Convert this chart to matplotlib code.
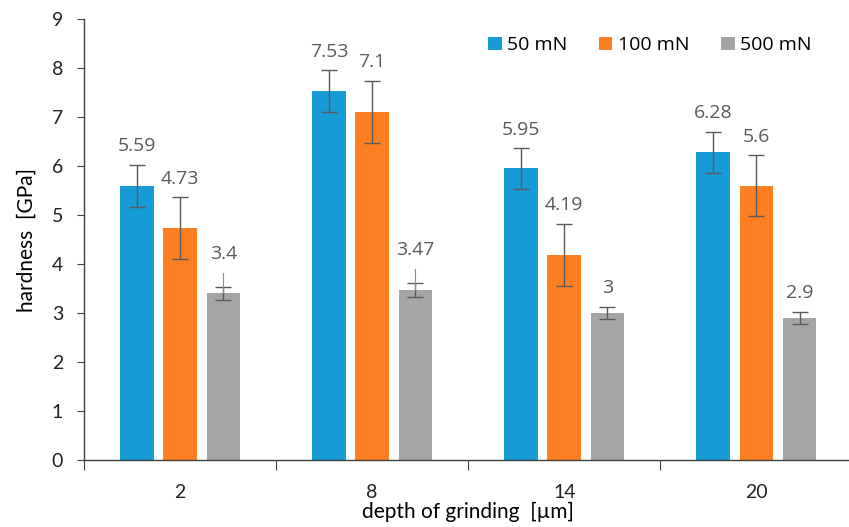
import numpy as np
import matplotlib
matplotlib.use("Agg")
from matplotlib import pyplot as plt

depths = ["2", "8", "14", "20"]
loads = ["50 mN", "100 mN", "500 mN"]
hardness = [
    [5.59, 7.53, 5.95, 6.28],   # 50 mN
    [4.73, 7.10, 4.19, 5.60],   # 100 mN
    [3.40, 3.47, 3.00, 2.90],   # 500 mN
]
errors = [
    [0.43, 0.42, 0.41, 0.42],
    [0.63, 0.64, 0.63, 0.62],
    [0.14, 0.14, 0.13, 0.13],
]
# thin uncapped line reaching above the cap on some grey bars
extra_up = [
    [0.0, 0.0, 0.0, 0.0],
    [0.0, 0.0, 0.0, 0.0],
    [0.42, 0.43, 0.0, 0.0],
]
labels = [
    ["5.59", "7.53", "5.95", "6.28"],
    ["4.73", "7.1", "4.19", "5.6"],
    ["3.4", "3.47", "3", "2.9"],
]
colors = ["#179BD7", "#FD7F22", "#A5A5A5"]

plt.rcParams['font.family'] = ['Open Sans', 'DejaVu Sans']

fig = plt.figure(figsize=(8.49, 5.27), dpi=100)
ax = fig.add_axes([0.099, 0.127, 0.905, 0.837])

x = np.arange(len(depths))
offsets = [-0.225, 0.0, 0.225]
width = 0.175
err_col = "#595959"

for i in range(3):
    pos = x + offsets[i]
    ax.bar(pos, hardness[i], width, color=colors[i], label=loads[i], zorder=2)
    ax.errorbar(pos, hardness[i], yerr=errors[i], fmt="none", ecolor=err_col,
                elinewidth=1, capsize=6, capthick=1, zorder=3)
    ext = np.array(extra_up[i])
    tops = np.array(hardness[i]) + np.maximum(np.array(errors[i]), ext)
    for j in range(len(depths)):
        if ext[j] > 0:
            ax.plot([pos[j], pos[j]], [hardness[i][j], hardness[i][j] + ext[j]],
                    color="#8c8c8c", lw=0.8, zorder=3)
        ax.annotate(labels[i][j], (pos[j], tops[j]), xytext=(0, 7),
                    textcoords="offset points", ha="center", va="bottom",
                    fontsize=14, color="#595959")

ax.set_xlim(-0.5, 3.5)
ax.set_ylim(0, 9)
ax.set_yticks(range(10))
ax.set_xticks(np.arange(-0.5, 4.0, 1.0))
ax.set_xticklabels([])
ax.set_xticks(x, minor=True)
ax.set_xticklabels(depths, minor=True)
ax.tick_params(axis="x", which="major", length=7, direction="out", color="#404040")
ax.tick_params(axis="x", which="minor", length=0, pad=17, labelsize=14, labelcolor="#222222")
ax.tick_params(axis="y", length=5, direction="out", color="#404040", labelsize=14,
               labelcolor="#222222", pad=10)
for lab in ax.get_xticklabels(minor=True) + ax.get_yticklabels():
    lab.set_family(['Lato', 'DejaVu Sans'])

for side in ["top", "right"]:
    ax.spines[side].set_visible(False)
for side in ["left", "bottom"]:
    ax.spines[side].set_color("#404040")
    ax.spines[side].set_linewidth(1)

ax.set_ylabel("hardness  [GPa]", fontsize=15, family=['Lato', 'DejaVu Sans'], labelpad=11)
ax.set_xlabel("depth of grinding  [\u00b5m]", fontsize=15, family=['Lato', 'DejaVu Sans'],
              labelpad=1)

ax.legend(loc="upper right", bbox_to_anchor=(0.97, 1.0), ncol=3, frameon=False,
          fontsize=14, handlelength=0.7, handleheight=0.7, handletextpad=0.3,
          columnspacing=1.6)

fig.savefig("out.png", dpi=100, facecolor="white")
